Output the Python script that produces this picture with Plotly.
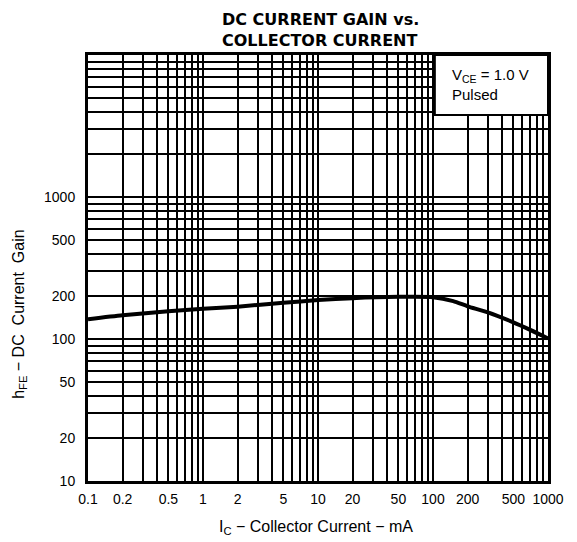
import plotly.graph_objects as go

# Data
ic_ma = [0.1, 0.2, 0.5, 1, 2, 5, 10, 20, 50, 100, 150, 200, 300, 500, 700, 1000]
hfe = [138, 147, 157, 163, 169, 180, 188, 194, 198, 197, 185, 170, 154, 131, 116, 101]

x_label_vals = [0.1, 0.2, 0.5, 1, 2, 5, 10, 20, 50, 100, 200, 500, 1000]
x_label_text = ["0.1", "0.2", "0.5", "1", "2", "5", "10", "20", "50", "100", "200", "500", "1000"]
y_label_vals = [10, 20, 50, 100, 200, 500, 1000]
y_label_text = ["10", "20", "50", "100", "200", "500", "1000"]


def grid_vals(start_decade, n_decades):
    vals = []
    for d in range(n_decades):
        base = 10 ** (start_decade + d)
        for m in range(1, 10):
            vals.append(round(base * m, 6))
    vals.append(round(10 ** (start_decade + n_decades), 6))
    return vals


xg = grid_vals(-1, 4)
yg = grid_vals(1, 3)

fig = go.Figure()
fig.add_trace(go.Scatter(x=ic_ma, y=hfe, mode="lines",
                         line=dict(color="black", width=4, shape="spline", smoothing=0.6),
                         showlegend=False, hoverinfo="skip"))

axis_font = dict(family="Liberation Sans, Arial, sans-serif", size=14, color="black")
text_font = "Liberation Sans, Arial, sans-serif"
grid_minor = dict(showgrid=True, gridcolor="black", gridwidth=1.7, ticks="")

# page body has an 8px default margin, so the figure is 8px smaller and margins are offset
fig.update_layout(
    width=569, height=534,
    margin=dict(l=80, r=29, t=47, b=61, autoexpand=False),
    paper_bgcolor="white", plot_bgcolor="white",
    showlegend=False,
    xaxis=dict(type="log", range=[-1, 3], tickvals=x_label_vals, ticktext=x_label_text,
               minor=dict(tickvals=xg, **grid_minor),
               showgrid=True, gridcolor="black", gridwidth=1.7,
               showline=True, linecolor="black", linewidth=3, mirror=True,
               ticks="", tickfont=axis_font, ticklabelstandoff=3, zeroline=False),
    yaxis=dict(type="log", range=[1, 4], tickvals=y_label_vals, ticktext=y_label_text,
               minor=dict(tickvals=yg, **grid_minor),
               showgrid=True, gridcolor="black", gridwidth=1.7,
               showline=True, linecolor="black", linewidth=3, mirror=True,
               ticks="", tickfont=axis_font, ticklabelstandoff=7, zeroline=False),
)

# Title
fig.add_annotation(text="<b>DC CURRENT GAIN vs.<br>COLLECTOR CURRENT</b>", xref="paper", yref="paper",
                   x=0.505, y=1.0, yshift=47, xanchor="center", yanchor="top", showarrow=False,
                   align="left", font=dict(family="DejaVu Sans, sans-serif", size=16, color="black"))

# Axis titles
fig.add_annotation(text="I<sub>C</sub> − Collector Current − mA", xref="paper", yref="paper",
                   x=0.495, y=0, yshift=-46, xanchor="center", yanchor="middle", showarrow=False,
                   font=dict(family=text_font, size=16, color="black"))
fig.add_annotation(text="h<sub>FE</sub> − DC  Current  Gain", xref="paper", yref="paper",
                   x=0, xshift=-68, y=0.39, xanchor="center", yanchor="middle", showarrow=False,
                   textangle=-90,
                   font=dict(family=text_font, size=16, color="black"))

# Condition box
fig.add_shape(type="rect", xref="paper", yref="paper", x0=0.754, x1=1.0, y0=0.859, y1=1.0,
              fillcolor="white", line=dict(color="black", width=2), layer="above")
fig.add_annotation(text="V<sub>CE</sub> = 1.0 V<br>Pulsed", xref="paper", yref="paper",
                   x=0.787, y=0.978, xanchor="left", yanchor="top", showarrow=False, align="left",
                   font=dict(family=text_font, size=15, color="black"))

fig.write_html("out.html")
